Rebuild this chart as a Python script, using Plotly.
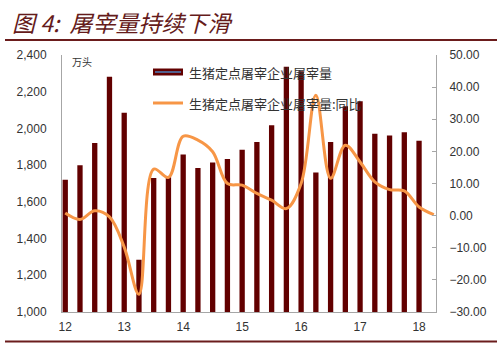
import plotly.graph_objects as go

# ---- data ----
year_labels = ["12", "13", "14", "15", "16", "17", "18"]
slaughter = [1720, 1800, 1920, 2282, 2085, 1285, 1730, 1740, 1858, 1784, 1815, 1833,
             1884, 1926, 2017, 2336, 2312, 1760, 1926, 2121, 2148, 1971, 1962, 1979, 1933]
yoy = [0.8, -1.2, 1.5, -0.4, -9.8, -24.5, 14.5, 11.9, 24.7, 23.5, 19.9, 10.0, 9.5,
       6.9, 4.8, 2.2, 10.0, 37.5, 11.6, 21.9, 16.7, 10.5, 8.1, 7.7, 2.7, 0.3]
bar_name = "生猪定点屠宰企业屠宰量"
line_name = "生猪定点屠宰企业屠宰量:同比"
unit_label = "万头"
title_text = "<i>图 4:  屠宰量持续下滑</i>"

W, H = 500, 362
L, R, T, B = 62, 64, 55, 50
PW, PH = W - L - R, H - T - B

def px(x):
    return (x - L) / PW

def py(y):
    return (H - B - y) / PH

BAR_COLOR = "#620000"
LINE_COLOR = "#F79646"
TEXT = "#333333"
AX = "#a6a6a6"
CJK = "Noto Sans CJK SC"

fig = go.Figure()
fig.add_trace(go.Bar(x=list(range(len(slaughter))), y=slaughter, marker_color=BAR_COLOR,
                     marker_line_width=0, width=0.36, name=bar_name, showlegend=False))
fig.add_trace(go.Scatter(x=list(range(len(yoy))), y=yoy, mode="lines", yaxis="y2",
                         line=dict(color=LINE_COLOR, width=3, shape="spline", smoothing=1.0),
                         name=line_name, showlegend=False))

tickvals = [i * 4 for i in range(len(year_labels))]

fig.update_layout(
    width=W, height=H,
    margin=dict(l=L, r=R, t=T, b=B),
    paper_bgcolor="white", plot_bgcolor="white",
    font=dict(family="Liberation Sans, Arial", size=12, color=TEXT),
    xaxis=dict(range=[-0.22, 25.15], tickvals=tickvals, ticktext=year_labels,
               showgrid=False, zeroline=False, showline=True, linecolor=AX, linewidth=1,
               ticks="", ticklabelstandoff=4, tickfont=dict(size=12, color=TEXT)),
    yaxis=dict(range=[1000, 2400], dtick=200, tickformat=",", showgrid=False,
               zeroline=False, showline=True, linecolor=AX, linewidth=1, ticks="",
               ticklabelstandoff=12, tickfont=dict(size=12, color=TEXT)),
    yaxis2=dict(range=[-30, 50], dtick=10, tickformat=".2f", overlaying="y", side="right",
                showgrid=False, zeroline=False, showline=True, linecolor=AX, linewidth=1,
                ticks="inside", ticklen=4, tickcolor=AX, ticklabelstandoff=10,
                tickfont=dict(size=12, color=TEXT)),
)

shapes = []
annotations = []
# title and rules
annotations.append(dict(text=title_text, xref="paper", yref="paper", x=px(10), y=py(22),
                        xanchor="left", yanchor="middle", showarrow=False,
                        font=dict(family=CJK, size=23, color="#651b1b")))
shapes.append(dict(type="line", xref="paper", yref="paper", x0=px(5), x1=px(497),
                   y0=py(40), y1=py(40), line=dict(color="#6b1c1c", width=2)))
shapes.append(dict(type="line", xref="paper", yref="paper", x0=px(5), x1=px(497),
                   y0=py(341.5), y1=py(341.5), line=dict(color="#6b1c1c", width=2)))
# unit label
annotations.append(dict(text=unit_label, xref="paper", yref="paper", x=px(70), y=py(61),
                        xanchor="left", yanchor="middle", showarrow=False,
                        font=dict(family=CJK, size=10, color=TEXT)))
# legend (manual)
shapes.append(dict(type="rect", xref="paper", yref="paper", x0=px(153), x1=px(183),
                   y0=py(68.5), y1=py(75.5), fillcolor=BAR_COLOR, line=dict(width=0)))
shapes.append(dict(type="line", xref="paper", yref="paper", x0=px(155), x1=px(181),
                   y0=py(72), y1=py(72), line=dict(color="#4F81BD", width=1.5)))
shapes.append(dict(type="line", xref="paper", yref="paper", x0=px(153), x1=px(183),
                   y0=py(103), y1=py(103), line=dict(color=LINE_COLOR, width=3)))
annotations.append(dict(text=bar_name, xref="paper", yref="paper", x=px(187), y=py(72),
                        xanchor="left", yanchor="middle", showarrow=False,
                        font=dict(family=CJK, size=13, color=TEXT)))
annotations.append(dict(text=line_name, xref="paper", yref="paper", x=px(187), y=py(103),
                        xanchor="left", yanchor="middle", showarrow=False,
                        font=dict(family=CJK, size=13, color=TEXT)))
fig.update_layout(shapes=shapes, annotations=annotations)

fig.write_html("out.html", config={"displayModeBar": False},
               post_script="document.body.style.margin='0';document.body.style.padding='0';"
                           "document.body.style.overflow='hidden';")
